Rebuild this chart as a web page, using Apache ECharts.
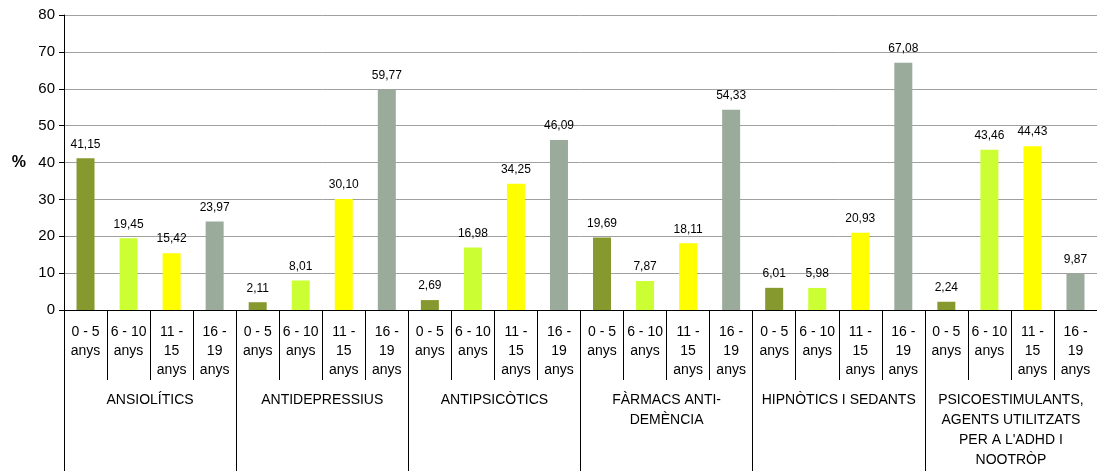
<!DOCTYPE html>
<html lang="ca">
  <head>
    <meta charset="UTF-8" />
    <script src="https://cdn.jsdelivr.net/npm/echarts@6/dist/echarts.min.js"></script>
    <style>
      html, body { margin: 0; padding: 0; background: #fff; }
      #main { width: 1097px; height: 471px; }
    </style>
    <title>Fàrmacs per edat</title>
  </head>
  <body>
    <div id="main"></div>
    <script>
      const groups = [
        "ANSIOLÍTICS",
        "ANTIDEPRESSIUS",
        "ANTIPSICÒTICS",
        "FÀRMACS ANTI-\nDEMÈNCIA",
        "HIPNÒTICS I SEDANTS",
        "PSICOESTIMULANTS,\nAGENTS UTILITZATS\nPER A L'ADHD I\nNOOTRÒP",
      ];
      const ages = ["0 - 5\nanys", "6 - 10\nanys", "11 -\n15\nanys", "16 -\n19\nanys"];
      const colors = ["#86992e", "#ccff33", "#ffff00", "#9aab9c"];

      // one array per age band, one value per drug group
      const age0_5 = [41.15, 2.11, 2.69, 19.69, 6.01, 2.24];
      const age6_10 = [19.45, 8.01, 16.98, 7.87, 5.98, 43.46];
      const age11_15 = [15.42, 30.10, 34.25, 18.11, 20.93, 44.43];
      const age16_19 = [23.97, 59.77, 46.09, 54.33, 67.08, 9.87];
      const byAge = [age0_5, age6_10, age11_15, age16_19];

      const cats = [];
      const values = [];
      groups.forEach((g, gi) => {
        ages.forEach((a, ai) => {
          cats.push(a);
          values.push({
            value: byAge[ai][gi],
            itemStyle: { color: colors[ai] },
          });
        });
      });

      const font = "Liberation Sans, Arial, sans-serif";
      const chart = echarts.init(document.getElementById("main"));

      chart.setOption({
        animation: false,
        textStyle: { fontFamily: font },
        grid: { left: 64, right: 0, top: 15, bottom: 161 },
        xAxis: [
          {
            type: "category",
            data: cats,
            axisLine: { show: true, lineStyle: { color: "#000", width: 1 } },
            axisTick: { show: true, interval: 0, length: 70, lineStyle: { color: "#000", width: 1 } },
            axisLabel: {
              interval: 0,
              margin: 13,
              color: "#000",
              fontSize: 14,
              lineHeight: 19,
              fontFamily: font,
            },
          },
          {
            type: "category",
            data: groups,
            position: "bottom",
            axisLine: { show: false },
            axisTick: { show: true, interval: 0, length: 161, lineStyle: { color: "#000", width: 1 } },
            axisLabel: {
              interval: 0,
              margin: 80,
              color: "#000",
              fontSize: 14,
              lineHeight: 20,
              fontFamily: font,
            },
          },
        ],
        yAxis: {
          type: "value",
          min: 0,
          max: 80,
          interval: 10,
          name: "%",
          nameLocation: "middle",
          nameRotate: 0,
          nameGap: 38,
          nameTextStyle: { fontSize: 16, fontWeight: "bold", color: "#000", fontFamily: font },
          axisLine: { show: true, lineStyle: { color: "#000" } },
          axisTick: { show: true, length: 5, lineStyle: { color: "#000" } },
          axisLabel: { color: "#000", fontSize: 15, margin: 9, fontFamily: font },
          splitLine: { lineStyle: { color: "#a0a0a0", width: 1 } },
        },
        series: [
          {
            type: "bar",
            xAxisIndex: 0,
            data: values,
            barWidth: 18,
            label: {
              show: true,
              position: "top",
              distance: 8,
              color: "#000",
              fontSize: 12,
              fontFamily: font,
              formatter: (p) => p.value.toFixed(2).replace(".", ","),
            },
          },
        ],
      });
    </script>
  </body>
</html>
